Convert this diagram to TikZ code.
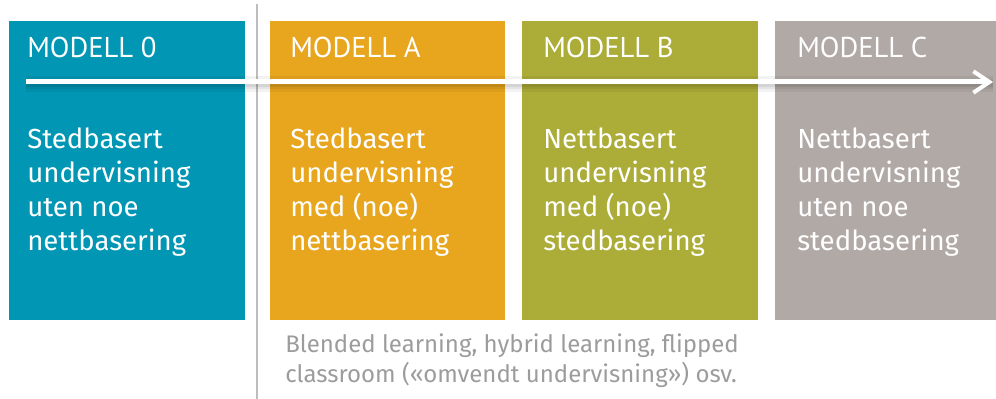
\documentclass[tikz,border=0pt]{standalone}
\usepackage{fontspec}
\setmainfont{Fira Sans}
\newfontfamily\titlefont{PT Sans}
\usetikzlibrary{arrows.meta}
\definecolor{cTeal}{HTML}{0096B4}
\definecolor{cOrange}{HTML}{E8A61F}
\definecolor{cOlive}{HTML}{ACAC38}
\definecolor{cGrey}{HTML}{B1A9A5}
\definecolor{cText}{HTML}{9C9C9C}
\definecolor{cDivider}{HTML}{BDBDBD}
\tikzset{
  modelbox/.style={fill=#1, draw=none},
  titletext/.style={anchor=base west, inner sep=0pt, text=white, font=\titlefont\fontsize{21.5}{26}\selectfont},
  bodytext/.style={anchor=base west, inner sep=0pt, text=white, align=left, font=\fontsize{20.7}{25.5}\selectfont},
  notetext/.style={anchor=base west, inner sep=0pt, text=cText, align=left, font=\fontsize{18}{22.5}\selectfont},
}
\begin{document}
\begin{tikzpicture}[x=0.75pt,y=-0.75pt]
\useasboundingbox (0,0) rectangle (996,399);
% boxes
\fill[modelbox=cTeal]   (9,21)   rectangle (245,320);
\fill[modelbox=cOrange] (270,21) rectangle (505,320);
\fill[modelbox=cOlive]  (522,21) rectangle (758,320);
\fill[modelbox=cGrey]   (775,21) rectangle (996,320);
% divider
\draw[cDivider, line width=1.5pt] (257,4) -- (257,399);
% titles
\node[titletext] (t0) at (27,58)  {MODELL 0};
\node[titletext] (tA) at (290,58) {MODELL A};
\node[titletext] (tB) at (543,58) {MODELL B};
\node[titletext] (tC) at (797,58) {MODELL C};
% arrow
\coordinate (as) at (26,82);
\coordinate (ae) at (993,82);
\draw[black, opacity=0.05, line width=12pt] ([yshift=-1.5pt]as) -- ([yshift=-1.5pt]ae);
\draw[black, opacity=0.06, line width=8pt] ([yshift=-1.5pt]as) -- ([yshift=-1.5pt]ae);
\draw[black, opacity=0.07, line width=5pt] ([yshift=-1pt]as) -- ([yshift=-1pt]ae);
\draw[white, line width=3.75pt, -{Straight Barb[length=12pt,width=16pt,line width=3pt]}] (as) -- (ae);
% body
\node[bodytext] (b0) at (27,250)  {Stedbasert\\undervisning\\uten noe\\nettbasering};
\node[bodytext] (bA) at (290,250) {Stedbasert\\undervisning\\med (noe)\\nettbasering};
\node[bodytext] (bB) at (543,250) {Nettbasert\\undervisning\\med (noe)\\stedbasering};
\node[bodytext] (bC) at (797,250) {Nettbasert\\undervisning\\uten noe\\stedbasering};
% note
\node[notetext] (note) at (285,382) {Blended learning, hybrid learning, flipped\\classroom («omvendt undervisning») osv.};
\end{tikzpicture}
\end{document}
